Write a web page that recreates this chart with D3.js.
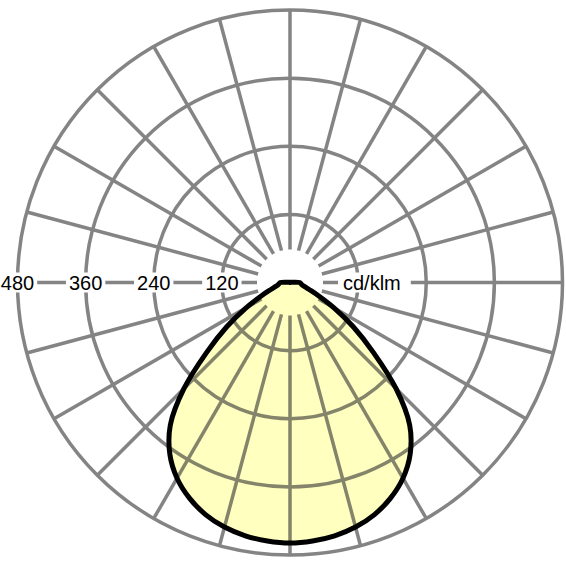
<!DOCTYPE html>
<html>
<head>
<meta charset="utf-8">
<script src="https://cdn.jsdelivr.net/npm/d3@7"></script>
<style>
  body { margin: 0; background: #fff; }
  text { font-family: "Liberation Sans", Arial, sans-serif; }
</style>
</head>
<body>
<svg id="chart" width="566" height="566"></svg>
<script>
// Luminous intensity, C0-C180 plane (symmetric), angle from nadir in degrees
var gammaAngles = [0, 5, 10, 15, 20, 25, 30, 35, 40, 45, 50, 55, 60, 65, 70, 75, 80, 85, 90,
                   95, 100, 105, 110, 120, 135, 150, 165, 180];
var intensity   = [459, 457, 453, 446, 435, 419, 398, 369, 328, 264, 192, 136, 90, 56, 36, 26, 21, 19, 17,
                   7, 2, 0, 0, 0, 0, 0, 0, 0];

// ring values and labels
var ringValues = [120, 240, 360, 480];
var unitLabel = "cd/klm";

var W = 566, H = 566;
var CX = 290, CY = 282.5;
var R_MAX = 272.5;
var R_INNER = 33;

var svg = d3.select("#chart");
var rad = d3.scaleLinear().domain([0, 480]).range([0, R_MAX]);
var toRad = function(deg) { return deg * Math.PI / 180; };

var g = svg.append("g").attr("transform", "translate(" + CX + "," + CY + ")");

// build closed outline: right half going up, then left half coming back down
var pts = [];
for (var i = 0; i < gammaAngles.length; i++)
	pts.push([Math.PI - toRad(gammaAngles[i]), rad(intensity[i])]);
for (var j = gammaAngles.length - 2; j > 0; j--)
	pts.push([Math.PI + toRad(gammaAngles[j]), rad(intensity[j])]);

var line = d3.lineRadial()
	.angle(function(d) { return d[0]; })
	.radius(function(d) { return d[1]; })
	.curve(d3.curveCatmullRomClosed.alpha(0.5));

// filled lobe underneath the grid
g.append("path")
	.attr("d", line(pts))
	.attr("fill", "#ffffbf")
	.attr("stroke", "none");

// grid drawn semi transparent so it tints over the fill
var grid = g.append("g").attr("opacity", 0.6);

grid.selectAll("circle")
	.data(ringValues)
	.enter()
	.append("circle")
	.attr("r", function(d) { return rad(d); })
	.attr("fill", "none")
	.attr("stroke", "#333")
	.attr("stroke-width", 3.5);

var spokes = d3.range(0, 360, 15);
grid.selectAll("line")
	.data(spokes)
	.enter()
	.append("line")
	.attr("x1", function(d) { return R_INNER * Math.cos(toRad(d)); })
	.attr("y1", function(d) { return R_INNER * Math.sin(toRad(d)); })
	.attr("x2", function(d) { return R_MAX * Math.cos(toRad(d)); })
	.attr("y2", function(d) { return R_MAX * Math.sin(toRad(d)); })
	.attr("stroke", "#333")
	.attr("stroke-width", 3.5);

// outline on top
g.append("path")
	.attr("d", line(pts))
	.attr("fill", "none")
	.attr("stroke", "#000")
	.attr("stroke-width", 5)
	.attr("stroke-linejoin", "round");

// labels on the left horizontal axis, with white knock-out boxes
var labels = g.append("g");
function addLabel(x, txt, anchor, padL, padR)
{
	var lg = labels.append("g");
	var bg = lg.append("rect").attr("fill", "#fff");
	var t = lg.append("text")
		.attr("x", x)
		.attr("y", 7)
		.attr("font-size", "20px")
		.attr("text-anchor", anchor)
		.attr("fill", "#000")
		.text(txt);
	var b = t.node().getBBox();
	bg.attr("x", b.x - padL)
		.attr("y", -10)
		.attr("width", b.width + padL + padR)
		.attr("height", 20);
}

ringValues.forEach(function(v) { addLabel(-rad(v), String(v), "middle", 3, 3); });
addLabel(53, unitLabel, "start", 5, 10);
</script>
</body>
</html>
